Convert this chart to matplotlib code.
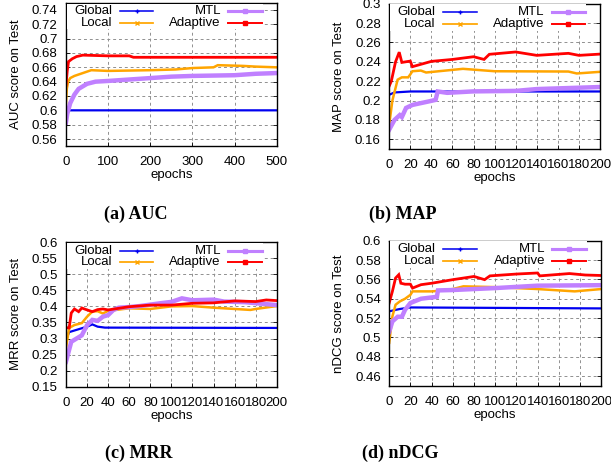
import numpy as np
import matplotlib.pyplot as plt
from matplotlib.patches import Rectangle
from matplotlib.ticker import FormatStrFormatter

plt.rcParams['font.family'] = ['Liberation Sans', 'DejaVu Sans']

########################################
# Data (epoch, score)
########################################

series_names = ['Global', 'Local', 'MTL', 'Adaptive']

# (a) AUC
auc_global_x = [0, 3, 8, 500]
auc_global_y = [0.585, 0.598, 0.600, 0.600]
auc_local_x = [0, 2, 5, 10, 20, 40, 60, 100, 200, 260, 300, 350, 360, 420, 450, 500]
auc_local_y = [0.610, 0.630, 0.640, 0.645, 0.648, 0.652, 0.656, 0.655, 0.656, 0.657,
               0.659, 0.660, 0.663, 0.662, 0.661, 0.660]
auc_mtl_x = [0, 3, 10, 20, 30, 50, 70, 100, 150, 200, 250, 300, 400, 450, 500]
auc_mtl_y = [0.583, 0.595, 0.610, 0.622, 0.630, 0.637, 0.640, 0.641, 0.643, 0.645,
             0.647, 0.648, 0.649, 0.651, 0.652]
auc_adapt_x = [0, 3, 6, 15, 25, 40, 100, 150, 160, 500]
auc_adapt_y = [0.635, 0.655, 0.668, 0.672, 0.675, 0.677, 0.676, 0.676, 0.674, 0.674]

# (b) MAP
map_global_x = [0, 5, 20, 200]
map_global_y = [0.206, 0.2084, 0.2094, 0.2094]
map_local_x = [0, 3, 8, 12, 18, 20, 22, 30, 35, 70, 100, 170, 178, 200]
map_local_y = [0.175, 0.200, 0.2216, 0.224, 0.224, 0.227, 0.2303, 0.231, 0.229, 0.2328,
               0.2303, 0.230, 0.228, 0.2297]
map_mtl_x = [0, 5, 10, 12, 16, 22, 37, 44, 46, 55, 80, 120, 140, 200]
map_mtl_y = [0.170, 0.180, 0.185, 0.183, 0.1924, 0.1955, 0.199, 0.2007, 0.2094, 0.208,
             0.2095, 0.210, 0.2119, 0.214]
map_adapt_x = [0, 2, 6, 9.5, 12, 20, 22, 40, 60, 80, 90, 95, 120, 140, 170, 180, 200]
map_adapt_y = [0.215, 0.220, 0.240, 0.250, 0.2394, 0.2408, 0.235, 0.2405, 0.2425, 0.2453,
               0.2425, 0.2478, 0.2502, 0.2467, 0.2488, 0.2467, 0.248]

# (c) MRR
mrr_global_x = [0, 3, 10, 20, 25, 30, 37, 200]
mrr_global_y = [0.296, 0.320, 0.327, 0.337, 0.344, 0.337, 0.334, 0.333]
mrr_local_x = [0, 3, 8, 15, 20, 25, 30, 35, 40, 60, 80, 100, 120, 140, 160, 175, 180, 200]
mrr_local_y = [0.270, 0.333, 0.342, 0.348, 0.368, 0.384, 0.385, 0.378, 0.386, 0.394,
               0.392, 0.400, 0.401, 0.396, 0.392, 0.389, 0.392, 0.401]
mrr_mtl_x = [0, 5, 10, 15, 20, 25, 30, 35, 40, 45, 50, 60, 70, 90, 100, 110, 120, 140,
             150, 170, 200]
mrr_mtl_y = [0.228, 0.290, 0.300, 0.310, 0.342, 0.358, 0.355, 0.368, 0.373, 0.389,
             0.396, 0.398, 0.401, 0.410, 0.414, 0.425, 0.419, 0.421, 0.415, 0.413, 0.404]
mrr_adapt_x = [0, 3, 5, 8, 12, 15, 20, 25, 30, 35, 40, 60, 80, 100, 120, 140, 160, 180,
               190, 200]
mrr_adapt_y = [0.334, 0.333, 0.3795, 0.392, 0.3836, 0.395, 0.389, 0.3836, 0.390, 0.392,
               0.389, 0.399, 0.404, 0.404, 0.4096, 0.411, 0.417, 0.415, 0.420, 0.418]

# (d) nDCG
ndcg_global_x = [0, 10, 20, 200]
ndcg_global_y = [0.527, 0.5294, 0.531, 0.530]
ndcg_local_x = [0, 3, 6, 10, 15, 20, 22, 40, 45, 60, 70, 100, 140, 175, 200]
ndcg_local_y = [0.4945, 0.5217, 0.5338, 0.5372, 0.540, 0.544, 0.5476, 0.5476, 0.548,
                0.550, 0.5528, 0.552, 0.550, 0.5476, 0.550]
ndcg_mtl_x = [0, 3, 8, 12, 15, 20, 30, 45, 46, 60, 100, 140, 200]
ndcg_mtl_y = [0.506, 0.5166, 0.5214, 0.5214, 0.5287, 0.5356, 0.540, 0.542, 0.5486,
              0.549, 0.551, 0.5535, 0.554]
ndcg_adapt_x = [0, 3, 6, 9, 11, 15, 20, 22, 30, 40, 60, 80, 90, 95, 120, 140, 142, 170,
                185, 200]
ndcg_adapt_y = [0.5356, 0.5476, 0.5614, 0.5648, 0.556, 0.555, 0.555, 0.551, 0.5545,
                0.556, 0.5597, 0.563, 0.5597, 0.5636, 0.5655, 0.5666, 0.5636, 0.566,
                0.5645, 0.564]

colors = ['#0000f0', '#ffa500', '#c080ff', '#ff0000']
widths = [1.6, 1.8, 3.2, 2.0]
legend_markers = ['+', 'x', 's', 's']
FS = 9.5

########################################
# Plotting
########################################

def draw_legend(ax):
    # gnuplot draws an opaque key box over the grid
    ax.add_patch(Rectangle((0.003, 0.815), 0.932, 0.18, transform=ax.transAxes,
                           facecolor='white', edgecolor='none', zorder=3))
    rows = [0.94, 0.86]
    for i, name in enumerate(series_names):
        col = 0 if name in ('Global', 'Local') else 1
        row = rows[0] if name in ('Global', 'MTL') else rows[1]
        text_x = 0.22 if col == 0 else 0.735
        line_x = (0.255, 0.415) if col == 0 else (0.77, 0.93)
        ax.text(text_x, row, name, transform=ax.transAxes, ha='right', va='center',
                fontsize=FS, zorder=5)
        ax.plot(line_x, [row, row], color=colors[i], lw=widths[i] * 0.7,
                transform=ax.transAxes, zorder=5, clip_on=False)
        ax.plot([sum(line_x) / 2], [row], color=colors[i], marker=legend_markers[i],
                ms=3, mew=1, transform=ax.transAxes, zorder=5)


def draw_panel(rect, data, xmax, xstep, ylim, yticks, ylabel, caption, cap_xy):
    ax = fig.add_axes(rect)
    for i, (xs, ys) in enumerate(data):
        ax.plot(xs, ys, color=colors[i], lw=widths[i], solid_joinstyle='miter')
    ax.set_xlim(0, xmax)
    ax.set_ylim(*ylim)
    ax.set_xticks(np.arange(0, xmax + 1, xstep))
    ax.set_yticks(yticks)
    ax.yaxis.set_major_formatter(FormatStrFormatter('%g'))
    ax.tick_params(direction='in', top=True, right=True, length=3, width=0.6,
                   labelsize=FS, colors='black')
    ax.tick_params(axis='x', pad=7)
    ax.tick_params(axis='y', pad=6)
    ax.grid(True, color='#909090', linestyle=(0, (3, 3)), linewidth=0.7)
    for s in ax.spines.values():
        s.set_linewidth(1.0)
    ax.set_xlabel('epochs', fontsize=FS, labelpad=1)
    ax.set_ylabel(ylabel, fontsize=FS, labelpad=7)
    draw_legend(ax)
    fig.text(cap_xy[0], cap_xy[1], caption, ha='center', va='center', fontsize=13,
             fontweight='bold', family=['Liberation Serif', 'DejaVu Serif'])
    return ax


fig = plt.figure(figsize=(6.11, 4.70), dpi=100)

draw_panel([0.108, 0.689, 0.345, 0.305],
           [(auc_global_x, auc_global_y), (auc_local_x, auc_local_y),
            (auc_mtl_x, auc_mtl_y), (auc_adapt_x, auc_adapt_y)],
           500, 100, (0.55, 0.75), np.arange(0.56, 0.745, 0.02),
           'AUC score on Test', '(a) AUC', (136 / 611, 1 - 214 / 470))

draw_panel([0.637, 0.683, 0.345, 0.309],
           [(map_global_x, map_global_y), (map_local_x, map_local_y),
            (map_mtl_x, map_mtl_y), (map_adapt_x, map_adapt_y)],
           200, 20, (0.15, 0.30), np.arange(0.16, 0.305, 0.02),
           'MAP score on Test', '(b) MAP', (403 / 611, 1 - 214 / 470))

draw_panel([0.108, 0.177, 0.345, 0.308],
           [(mrr_global_x, mrr_global_y), (mrr_local_x, mrr_local_y),
            (mrr_mtl_x, mrr_mtl_y), (mrr_adapt_x, mrr_adapt_y)],
           200, 20, (0.15, 0.60), np.arange(0.15, 0.605, 0.05),
           'MRR score on Test', '(c) MRR', (139 / 611, 1 - 453 / 470))

draw_panel([0.637, 0.179, 0.347, 0.309],
           [(ndcg_global_x, ndcg_global_y), (ndcg_local_x, ndcg_local_y),
            (ndcg_mtl_x, ndcg_mtl_y), (ndcg_adapt_x, ndcg_adapt_y)],
           200, 20, (0.45, 0.60), np.arange(0.46, 0.605, 0.02),
           'nDCG score on Test', '(d) nDCG', (400 / 611, 1 - 453 / 470))

fig.savefig('out.png', dpi=100)
